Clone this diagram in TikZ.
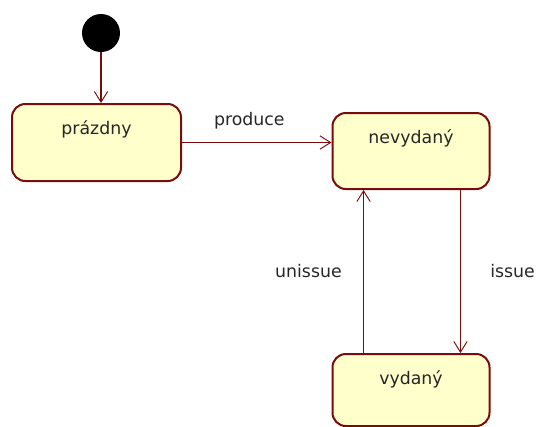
\documentclass[tikz,border=0pt]{standalone}
\usepackage{fontspec}
\setmainfont{DejaVu Sans}
\usetikzlibrary{arrows.meta}
\definecolor{stateline}{RGB}{120,12,12}
\definecolor{statefill}{RGB}{255,255,204}

\begin{document}
\begin{tikzpicture}[x=0.75pt, y=-0.75pt,
    every node/.style={font=\fontsize{13}{15}\selectfont, text=black!85},
    state/.style={draw=stateline, fill=statefill, line width=1.5pt, rounded corners=10pt,
        inner sep=0pt, anchor=north, text height=22.5pt},
    trans/.style={draw=stateline, line width=1.3pt,
        -{Straight Barb[length=8pt, width=10pt, line width=0.7pt]}},
    lbl/.style={inner sep=0pt}]
    \useasboundingbox (0,0) rectangle (538,426);

    % Initial state
    \node[circle, fill=black, inner sep=0pt, minimum size=28.5pt] (init) at (101,33) {};

    % The three states
    \node[state, minimum width=126.75pt, text depth=35.25pt] (prazdny) at (96.5,103) {prázdny};
    \node[state, minimum width=117.75pt, text depth=34.5pt] (nevydany) at (411,112) {nevydaný};
    \node[state, minimum width=117.75pt, text depth=31.5pt] (vydany) at (411,353) {vydaný};

    % Transitions
    \draw[trans] (init) -- (init |- prazdny.north);
    \draw[trans] (prazdny.east) -- (prazdny.east -| nevydany.west)
        node[lbl, pos=0.45, above=9.75pt] {produce};
    \draw[trans] ([xshift=37.1pt]nevydany.south) -- ([xshift=37.1pt]vydany.north)
        node[lbl, midway, right=21.75pt] {issue};
    \draw[trans] ([xshift=-35.6pt]vydany.north) -- ([xshift=-35.6pt]nevydany.south)
        node[lbl, midway, left=15.75pt] {unissue};
\end{tikzpicture}
\end{document}
